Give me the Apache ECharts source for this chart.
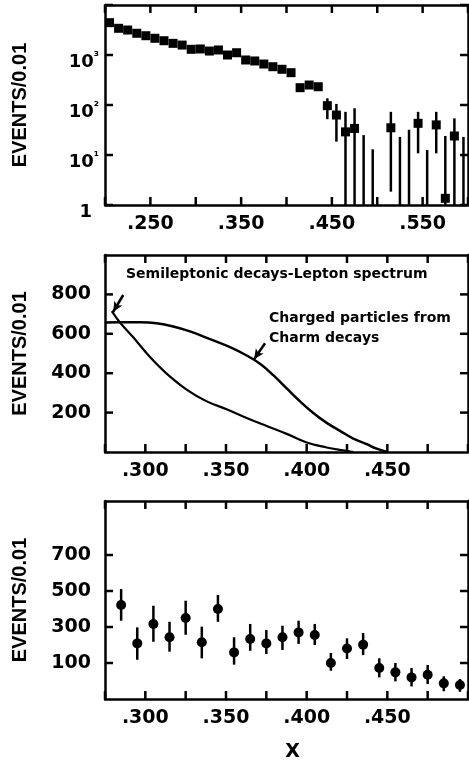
<!DOCTYPE html>
<html>
<head>
<meta charset="utf-8">
<script src="https://cdn.jsdelivr.net/npm/echarts@6/dist/echarts.min.js"></script>
<style>
html,body{margin:0;padding:0;background:#fff;}
#chart{width:469px;height:767px;}
</style>
</head>
<body>
<div id="chart"></div>
<script>
// ---------- Panel 1 (log scale) ----------
const x1 = [0.205,0.215,0.225,0.235,0.245,0.255,0.265,0.275,0.285,0.295,
            0.305,0.315,0.325,0.335,0.345,0.355,0.365,0.375,0.385,0.395,
            0.405,0.415,0.425,0.435,0.445,0.455,0.465,0.475,0.485,0.495,
            0.505,0.515,0.525,0.535,0.545,0.555,0.565,0.575,0.585,0.595];
const y1 = [4430,3420,3160,2720,2430,2160,1930,1710,1580,1300,
            1320,1200,1260,1000,1110,795,760,660,583,518,
            443,222,251,232,97,63,29,34,null,null,
            null,35,null,null,43,null,40,1.36,24,null];
const hi1 = [null,null,null,null,null,null,null,null,null,null,
             null,null,null,null,null,null,null,null,null,null,
             null,null,null,null,136,105,73,86,25,13,
             null,73,23,32,73,12.6,73,24,54,23];
const lo1 = [null,null,null,null,null,null,null,null,null,null,
             null,null,null,null,null,null,null,null,null,null,
             null,null,null,null,52,18.5,1,1,1,1,
             null,1.85,1,1,10.8,1,10.8,1,1,1];
const xTicks1 = [0.20,0.25,0.30,0.35,0.40,0.45,0.50,0.55,0.60];
const xLabelVals1 = [0.25,0.35,0.45,0.55];
const xLabels1 = ['.250','.350','.450','.550'];
const yTicks1 = [1,10,100,1000,10000];
const yLabelVals1 = [1,10,100,1000];
const yLabels1 = ['1','10¹','10²','10³'];

// ---------- Panel 2 (curves) ----------
const charmX = [0.275,0.2843,0.2967,0.307,0.3173,0.3277,0.3401,0.3525,0.3628,0.3711,
                0.3793,0.3876,0.3959,0.4041,0.4124,0.4207,0.4289,0.4372,0.443,0.45];
const charmY = [657,658,658,653,637,612,573,532,490,448,
                390,323,257,198,148,107,68,40,18,0];
const semiX = [0.2792,0.2843,0.2925,0.3029,0.3132,0.3256,0.3381,0.3504,0.3628,0.3752,
               0.3876,0.400,0.4124,0.4227,0.4289];
const semiY = [715,657,582,482,398,317,257,217,173,132,
               92,48,23,8,0];
const xTicks23 = [0.275,0.30,0.325,0.35,0.375,0.40,0.425,0.45,0.475,0.50];
const xLabelVals23 = [0.30,0.35,0.40,0.45];
const xLabels23 = ['.300','.350','.400','.450'];
const yTicks2 = [200,400,600,800];
const yLabels2 = ['200','400','600','800'];

// ---------- Panel 3 (points) ----------
const x3 = [0.285,0.295,0.305,0.315,0.325,0.335,0.345,0.355,0.365,0.375,0.385,
            0.395,0.405,0.415,0.425,0.435,0.445,0.455,0.465,0.475,0.485,0.495];
const y3 = [422,209,317,243,350,215,400,159,233,209,243,
            270,256,100,181,202,72,48,20,35,-13,-22];
const hi3 = [511,298,418,329,446,302,478,243,317,283,307,
             335,317,156,237,267,126,100,72,89,26,11];
const lo3 = [335,118,218,163,257,126,329,91,168,150,172,
             206,200,57,122,144,20,-2,-30,-17,-57,-60];
const yTicks3 = [100,300,500,700];
const yLabels3 = ['100','300','500','700'];

const yTitle = 'EVENTS/0.01';
const xTitle = 'X';

// ---------- helpers ----------
const NUMFONT = '"DejaVu Sans"';
function lookup(vals, labels){
  return function(v){
    for (let i=0;i<vals.length;i++){ if (Math.abs(v-vals[i])<1e-6*Math.max(1,Math.abs(vals[i]))) return labels[i]; }
    return '';
  };
}
const axisLineStyle = {color:'#000', width:2.5};
const labelBase = {color:'#000', fontFamily:NUMFONT, fontWeight:'bold', fontSize:19};
const TICKLEN = 8;

function xAxes(gridIndex, min, max, labVals, labs){
  return [
    {type:'value', gridIndex, min, max, position:'bottom',
     axisLine:{show:true, onZero:false, lineStyle:axisLineStyle},
     axisTick:{show:false},
     axisLabel:Object.assign({}, labelBase, {margin:10, customValues:labVals, formatter:lookup(labVals, labs)}),
     splitLine:{show:false}},
    {type:'value', gridIndex, min, max, position:'top',
     axisLine:{show:true, onZero:false, lineStyle:axisLineStyle},
     axisTick:{show:false}, axisLabel:{show:false}, splitLine:{show:false}}
  ];
}
function yAxesLin(gridIndex, min, max, labVals, labs){
  const base = {type:'value', gridIndex, min, max,
    axisLine:{show:true, onZero:false, lineStyle:axisLineStyle},
    axisTick:{show:false}, splitLine:{show:false}};
  return [
    Object.assign({}, base, {position:'left',
      name:yTitle, nameLocation:'middle', nameRotate:90, nameGap:75,
      nameTextStyle:{color:'#000', fontFamily:'"Liberation Sans"', fontWeight:'bold', fontSize:20},
      axisLabel:Object.assign({}, labelBase, {margin:14, customValues:labVals, formatter:lookup(labVals, labs)})}),
    Object.assign({}, base, {position:'right', axisLabel:{show:false}})
  ];
}

const err1 = [];
x1.forEach((x,i)=>{ if (hi1[i]!=null) err1.push([x, lo1[i], hi1[i]]); });
const pts1 = [];
x1.forEach((x,i)=>{ if (y1[i]!=null) pts1.push([x, y1[i]]); });
const err3 = x3.map((x,i)=>[x, lo3[i], hi3[i]]);
const pts3 = x3.map((x,i)=>[x, y3[i]]);

function errItem(params, api){
  const x = api.value(0), lo = api.value(1), hi = api.value(2);
  const p1 = api.coord([x, lo]);
  const p2 = api.coord([x, hi]);
  return {type:'line', shape:{x1:p1[0], y1:p1[1], x2:p2[0], y2:p2[1]},
          style:{stroke:'#000', lineWidth:2.5}};
}

// inward tick marks on all four sides, positioned through the axes' scales
function tickData(xt, yt, xRef, yRef){
  return xt.map(v=>[v, yRef, 0]).concat(yt.map(v=>[xRef, v, 1]));
}
function tickItem(params, api){
  const cs = params.coordSys;
  const p = api.coord([api.value(0), api.value(1)]);
  const st = {stroke:'#000', lineWidth:2.5};
  if (api.value(2) === 0){
    const yb = cs.y + cs.height, yt = cs.y;
    return {type:'group', children:[
      {type:'line', shape:{x1:p[0], y1:yb, x2:p[0], y2:yb-TICKLEN}, style:st},
      {type:'line', shape:{x1:p[0], y1:yt, x2:p[0], y2:yt+TICKLEN}, style:st}
    ]};
  }
  const xl = cs.x, xr = cs.x + cs.width;
  return {type:'group', children:[
    {type:'line', shape:{x1:xl, y1:p[1], x2:xl+TICKLEN, y2:p[1]}, style:st},
    {type:'line', shape:{x1:xr, y1:p[1], x2:xr-TICKLEN, y2:p[1]}, style:st}
  ]};
}

const logY = function(position){
  const a = {type:'log', logBase:10, gridIndex:0, min:1, max:10000, position,
    axisLine:{show:true, onZero:false, lineStyle:axisLineStyle},
    axisTick:{show:false}, splitLine:{show:false}};
  if (position==='left'){
    a.name = yTitle; a.nameLocation='middle'; a.nameRotate=90; a.nameGap=75;
    a.nameTextStyle = {color:'#000', fontFamily:'"Liberation Sans"', fontWeight:'bold', fontSize:20};
    a.axisLabel = {color:'#000', margin:6, padding:[14,0,0,0],
      customValues:yLabelVals1,
      formatter:function(v){
        const s = lookup(yLabelVals1, yLabels1)(v);
        if (!s) return '';
        if (s==='1') return '{one|1}';
        return '{b|' + s.slice(0,2) + '}{s|' + s.slice(2) + '}';
      },
      rich:{
        b:{fontFamily:NUMFONT, fontWeight:'bold', fontSize:18, color:'#000', lineHeight:22},
        s:{fontFamily:NUMFONT, fontWeight:'bold', fontSize:12, color:'#000', lineHeight:12, verticalAlign:'top'},
        one:{fontFamily:NUMFONT, fontWeight:'bold', fontSize:18, color:'#000', padding:[0,7,0,0]}
      }};
  } else {
    a.axisLabel = {show:false};
  }
  return a;
};

const chart = echarts.init(document.getElementById('chart'), null, {renderer:'canvas'});
const xa = [].concat(
  xAxes(0, 0.2, 0.6, xLabelVals1, xLabels1),
  xAxes(1, 0.275, 0.5, xLabelVals23, xLabels23),
  xAxes(2, 0.275, 0.5, xLabelVals23, xLabels23)
);
xa[4].name = xTitle; xa[4].nameLocation='middle'; xa[4].nameGap=44;
xa[4].nameTextStyle = {color:'#000', fontFamily:NUMFONT, fontWeight:'bold', fontSize:19, padding:[0,0,0,12]};

const ya = [].concat(
  [logY('left'), logY('right')],
  yAxesLin(1, 0, 1000, yTicks2, yLabels2),
  yAxesLin(2, -100, 1000, yTicks3, yLabels3)
);

chart.setOption({
  animation:false,
  backgroundColor:'#fff',
  grid:[
    {left:105, right:1, top:5, height:200},
    {left:105, right:1, top:255, height:197},
    {left:105, right:1, top:501, height:198}
  ],
  xAxis: xa,
  yAxis: ya,
  graphic:[
    {type:'text', left:126, top:267, style:{text:'Semileptonic decays-Lepton spectrum', font:'bold 14px "DejaVu Sans"', fill:'#000'}},
    {type:'text', left:269, top:311, style:{text:'Charged particles from', font:'bold 14px "DejaVu Sans"', fill:'#000'}},
    {type:'text', left:269, top:331, style:{text:'Charm decays', font:'bold 14px "DejaVu Sans"', fill:'#000'}}
  ],
  series:[
    {type:'custom', xAxisIndex:0, yAxisIndex:0, data:tickData(xTicks1, yTicks1, 0.2, 1), renderItem:tickItem, clip:false, silent:true, z:5},
    {type:'custom', xAxisIndex:2, yAxisIndex:2, data:tickData(xTicks23, yTicks2, 0.275, 0), renderItem:tickItem, clip:false, silent:true, z:5},
    {type:'custom', xAxisIndex:4, yAxisIndex:4, data:tickData(xTicks23, yTicks3, 0.275, 0), renderItem:tickItem, clip:false, silent:true, z:5},
    {type:'custom', xAxisIndex:0, yAxisIndex:0, data:err1, renderItem:errItem, clip:true, z:2},
    {type:'scatter', xAxisIndex:0, yAxisIndex:0, data:pts1, symbol:'rect', symbolSize:9,
     itemStyle:{color:'#000', opacity:1}, clip:true, z:3},
    {type:'line', xAxisIndex:2, yAxisIndex:2, data:charmX.map((x,i)=>[x,charmY[i]]), smooth:0.4,
     showSymbol:false, lineStyle:{color:'#000', width:2.5}, clip:true,
     markLine:{silent:true, symbol:['none','arrow'], symbolSize:[7,10], label:{show:false},
       lineStyle:{color:'#000', width:2.5, type:'solid'},
       data:[[{coord:[0.3742,552]},{coord:[0.3674,471]}]]}},
    {type:'line', xAxisIndex:2, yAxisIndex:2, data:semiX.map((x,i)=>[x,semiY[i]]), smooth:0.4,
     showSymbol:false, lineStyle:{color:'#000', width:2.2}, clip:true,
     markLine:{silent:true, symbol:['none','arrow'], symbolSize:[7,10], label:{show:false},
       lineStyle:{color:'#000', width:2.5, type:'solid'},
       data:[[{coord:[0.2863,797]},{coord:[0.2801,712]}]]}},
    {type:'custom', xAxisIndex:4, yAxisIndex:4, data:err3, renderItem:errItem, clip:true, z:2},
    {type:'scatter', xAxisIndex:4, yAxisIndex:4, data:pts3, symbol:'circle', symbolSize:10,
     itemStyle:{color:'#000', opacity:1}, clip:true, z:3}
  ]
});
</script>
</body>
</html>
